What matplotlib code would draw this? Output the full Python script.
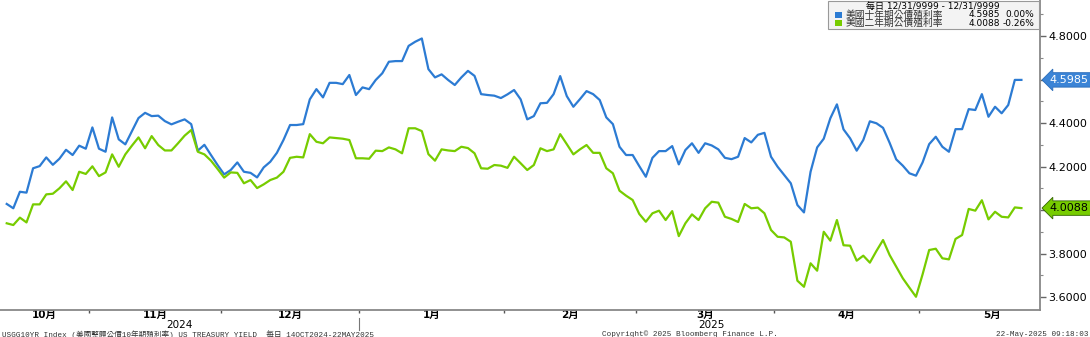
import matplotlib.pyplot as plt
import matplotlib.transforms as mtransforms
from matplotlib.patches import Rectangle
from matplotlib.ticker import MultipleLocator
import pandas as pd
import numpy as np

plt.rcParams['font.family'] = ['DejaVu Sans', 'Noto Sans CJK TC']

# trading days shown (weekdays, a few holidays skipped)
holidays = ['2024-11-28', '2024-12-25', '2025-01-01']
dates = pd.bdate_range('2024-10-15', '2025-05-22').drop(pd.to_datetime(holidays))

us10y = [
    4.028, 4.008, 4.084, 4.080, 4.192, 4.202, 4.242, 4.208, 4.236, 4.277,
    4.253, 4.296, 4.282, 4.380, 4.282, 4.268, 4.426, 4.325, 4.302, 4.363,
    4.423, 4.447, 4.432, 4.434, 4.409, 4.394, 4.406, 4.417, 4.395, 4.273,
    4.300, 4.253, 4.207, 4.164, 4.184, 4.219, 4.176, 4.171, 4.150, 4.196,
    4.222, 4.263, 4.322, 4.391, 4.391, 4.395, 4.509, 4.556, 4.518, 4.585,
    4.585, 4.579, 4.621,
    4.529, 4.564, 4.556, 4.598, 4.629, 4.682, 4.685, 4.685, 4.755, 4.774,
    4.789, 4.648, 4.610, 4.624, 4.598, 4.575, 4.610, 4.640, 4.617, 4.533,
    4.529, 4.526, 4.515, 4.532, 4.552, 4.509, 4.417, 4.432, 4.491, 4.493,
    4.533, 4.616, 4.524, 4.475, 4.510, 4.547, 4.533, 4.506, 4.426, 4.395,
    4.291, 4.253, 4.253, 4.202, 4.153, 4.240, 4.271, 4.271, 4.294, 4.210,
    4.276, 4.307, 4.263,
    4.307, 4.297, 4.279, 4.240, 4.234, 4.245, 4.331, 4.311, 4.346, 4.355,
    4.245, 4.199, 4.161, 4.123, 4.023, 3.989, 4.176, 4.288, 4.328, 4.422,
    4.486, 4.371, 4.330, 4.273, 4.322, 4.408, 4.399, 4.378, 4.309, 4.233,
    4.204, 4.169, 4.158, 4.219, 4.303, 4.337, 4.291, 4.268, 4.372, 4.372,
    4.464, 4.460, 4.533, 4.429, 4.475, 4.445, 4.483, 4.5985, 4.5985,
]
us2y = [
    3.939, 3.931, 3.965, 3.943, 4.026, 4.026, 4.072, 4.075, 4.100, 4.132,
    4.092, 4.176, 4.166, 4.201, 4.156, 4.173, 4.256, 4.199, 4.256, 4.296,
    4.334, 4.284, 4.340, 4.299, 4.274, 4.274, 4.307, 4.342, 4.368, 4.268,
    4.256, 4.227, 4.189, 4.149, 4.173, 4.171, 4.123, 4.138, 4.101, 4.118,
    4.138, 4.149, 4.176, 4.240, 4.245, 4.242, 4.349, 4.314, 4.307, 4.334,
    4.331, 4.328, 4.322,
    4.238, 4.238, 4.236, 4.273, 4.271, 4.288, 4.279, 4.261, 4.376, 4.376,
    4.363, 4.257, 4.227, 4.279, 4.274, 4.271, 4.291, 4.285, 4.261, 4.192,
    4.190, 4.207, 4.204, 4.194, 4.245, 4.215, 4.184, 4.207, 4.284, 4.271,
    4.279, 4.349, 4.303, 4.256, 4.279, 4.299, 4.263, 4.263, 4.192, 4.169,
    4.089, 4.066, 4.046, 3.982, 3.946, 3.985, 3.997, 3.954, 3.995, 3.880,
    3.939, 3.980, 3.954,
    4.008, 4.038, 4.034, 3.969, 3.959, 3.945, 4.028, 4.008, 4.011, 3.985,
    3.908, 3.877, 3.874, 3.854, 3.675, 3.647, 3.755, 3.721, 3.900, 3.859,
    3.954, 3.838, 3.836, 3.767, 3.790, 3.758, 3.812, 3.862, 3.793, 3.739,
    3.686, 3.643, 3.601, 3.704, 3.816, 3.822, 3.778, 3.773, 3.867, 3.885,
    4.005, 3.997, 4.045, 3.957, 3.992, 3.969, 3.966, 4.012, 4.0088,
]
names = ['美國十年期公債殖利率', '美國二年期公債殖利率']
last_vals = ['4.5985', '4.0088']
changes = ['0.00%', '-0.26%']
month_labels = ['10月', '11月', '12月', '1月', '2月', '3月', '4月', '5月']
years = ['2024', '2025']
ytick_vals = [3.6, 3.8, 4.0, 4.2, 4.4, 4.6, 4.8]

blue = '#2c7bd3'
green = '#77cc00'

x = np.arange(len(dates))

fig = plt.figure(figsize=(10.9, 3.37), dpi=100)
ax = fig.add_axes([0, 0.080, 0.954, 0.920])
ax.plot(x, us10y, color=blue, lw=1.6)
ax.plot(x, us2y, color=green, lw=1.6)

xleft, xright = -1.02, 156.8
ax.set_xlim(xleft, xright)
ax.set_ylim(3.540, 4.966)

for s in ['top', 'left']:
    ax.spines[s].set_visible(False)
for s in ['right', 'bottom']:
    ax.spines[s].set_color('#888888')
    ax.spines[s].set_linewidth(1.3)

# y axis on right
ax.yaxis.tick_right()
ax.set_yticks(ytick_vals)
ax.set_yticklabels(['' if v in (4.0, 4.6) else f'{v:.4f}' for v in ytick_vals])
ax.yaxis.set_minor_locator(MultipleLocator(0.1))
ax.tick_params(axis='y', which='major', length=4, width=1, color='#666666',
               labelsize=8, pad=2)
ax.tick_params(axis='y', which='minor', length=2.5, width=0.8, color='#888888')

# month boundaries and labels
starts = [i for i in range(1, len(dates)) if dates[i].month != dates[i - 1].month]
bounds = [s - 0.5 for s in starts]
may_len = len(pd.bdate_range('2025-05-01', '2025-05-31'))
edges = [xleft] + bounds + [bounds[-1] + may_len]
centers = [(edges[i] + edges[i + 1]) / 2 for i in range(len(edges) - 1)]
ax.set_xticks(bounds)
ax.set_xticklabels([])
ax.set_xticks(centers, minor=True)
ax.set_xticklabels(month_labels, minor=True, fontsize=7.5, fontweight='bold')
ax.tick_params(axis='x', which='major', length=2.5, width=1, color='#555555')
ax.tick_params(axis='x', which='minor', length=0, pad=0)

# year labels and separator
jan = bounds[2]
trans = mtransforms.blended_transform_factory(ax.transData, ax.transAxes)
ax.text((xleft + jan) / 2, -0.049, years[0], transform=trans, ha='center',
        va='center', fontsize=7.5)
ax.text((jan + edges[-1]) / 2, -0.049, years[1], transform=trans, ha='center',
        va='center', fontsize=7.5)
ax.plot([jan, jan], [-0.026, -0.065], transform=trans, color='#777777', lw=0.8,
        clip_on=False)

# last value tags
tagtrans = mtransforms.blended_transform_factory(ax.transAxes, ax.transData)
ax.text(1.0096, us10y[-1], last_vals[0], transform=tagtrans, ha='left', va='center',
        fontsize=8, color='white',
        bbox=dict(boxstyle='larrow,pad=0.2', fc='#3b84d6', ec='#2a6cb8', lw=0.6))
ax.text(1.0096, us2y[-1], last_vals[1], transform=tagtrans, ha='left', va='center',
        fontsize=8, color='black',
        bbox=dict(boxstyle='larrow,pad=0.2', fc=green, ec='#336600', lw=0.6))

# legend box
W, H = 1090.0, 337.0
fig.patches.append(Rectangle((828 / W, 1 - 29 / H), 211 / W, 28 / H,
                             transform=fig.transFigure, fc='#f3f3f3',
                             ec='#999999', lw=0.8, zorder=5))
fig.text(933 / W, 1 - 6 / H, '每日 12/31/9999 - 12/31/9999', ha='center',
         va='center', fontsize=6.5, zorder=6)
for i, (nm, lv, ch, col) in enumerate(zip(names, last_vals, changes, [blue, green])):
    yy = 1 - (14.5 + 8.5 * i) / H
    fig.patches.append(Rectangle((835 / W, yy - 3 / H), 7 / W, 6 / H,
                                 transform=fig.transFigure, fc=col, ec='none',
                                 zorder=6))
    fig.text(846 / W, yy, nm, ha='left', va='center', fontsize=7, zorder=6,
             color='#333333')
    fig.text(969 / W, yy, lv, ha='left', va='center', fontsize=6.5, zorder=6)
    fig.text(1034 / W, yy, ch, ha='right', va='center', fontsize=6.5, zorder=6)

# footer
foot = ['Liberation Mono', 'Noto Sans CJK TC']
fig.text(2 / W, 2.8 / H, 'USGG10YR Index (美國整體公債10年期殖利率) US TREASURY YIELD  每日 14OCT2024-22MAY2025',
         ha='left', va='center', fontsize=5.5, family=foot, color='#333333')
fig.text(690 / W, 2.8 / H, 'Copyright© 2025 Bloomberg Finance L.P.', ha='center',
         va='center', fontsize=5.5, family=foot, color='#333333')
fig.text(1088 / W, 2.8 / H, '22-May-2025 09:18:03', ha='right', va='center',
         fontsize=5.5, family=foot, color='#333333')

fig.savefig('out.png', dpi=100)
